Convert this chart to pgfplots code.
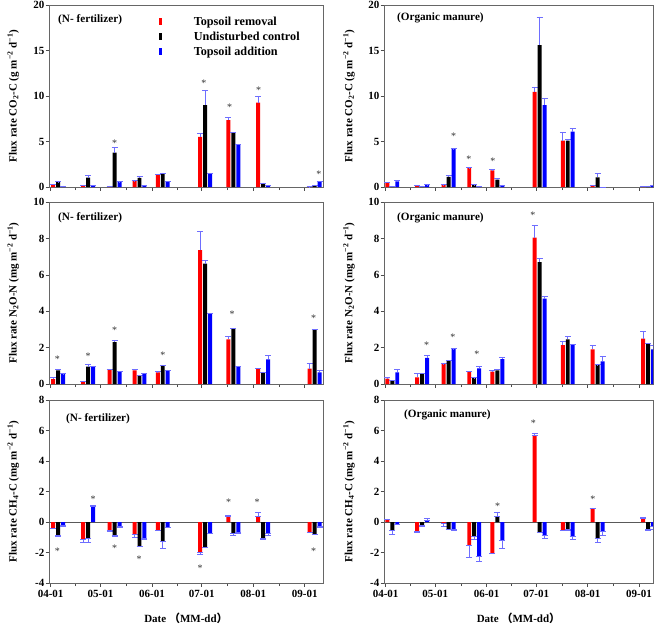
\documentclass[border=0pt]{standalone}
\usepackage{pgfplots}
\pgfplotsset{compat=1.18}
\usepackage{pgfplotstable}
\usepackage{fontspec}
\setmainfont{Liberation Serif}
\newfontfamily\cjk{Noto Sans CJK SC}
\definecolor{errb}{HTML}{6E6EFF}

% d r re k ke b be
\pgfplotstableread{
d r re k ke b be
4.5 0.25 0.05 0.55 0.05 0.10 0.02
22.5 0.20 0.03 1.03 0.30 0.15 0.02
38.5 0.10 0.02 3.78 0.55 0.55 0.05
53.5 0.66 0.05 1.00 0.20 0.20 0.02
67.5 1.32 0.10 1.47 0.08 0.60 0.03
93 5.50 0.45 9.00 1.64 1.45 0.10
110 7.34 0.30 5.95 0.05 4.66 0.05
128 9.28 0.70 0.35 0.10 0.15 0.02
159 0.02 0.01 0.20 0.03 0.55 0.08
}\tA
\pgfplotstableread{
d r re k ke b be
4 0.51 0.05 0.05 0.01 0.62 0.08
22 0.15 0.02 0.10 0.02 0.20 0.05
38 0.20 0.05 1.10 0.15 4.15 0.05
53.5 2.09 0.03 0.20 0.05 0.05 0.01
67.5 1.83 0.07 0.80 0.15 0.20 0.03
93 10.46 0.55 15.60 3.10 9.00 0.70
110 5.10 0.90 5.10 0.10 6.09 0.33
128 0.20 0.02 1.06 0.41 0.00 0.00
158.5 0.05 0.02 0.10 0.02 0.12 0.02
}\tB
\pgfplotstableread{
d r re k ke b be
4.5 0.27 0.08 0.75 0.07 0.55 0.02
22.5 0.15 0.02 0.95 0.16 0.95 0.05
38.5 0.80 0.02 2.30 0.11 0.69 0.02
53.5 0.75 0.05 0.46 0.02 0.57 0.03
67.5 0.64 0.04 1.00 0.05 0.71 0.07
93 7.36 1.02 6.61 0.18 3.89 0.02
110 2.45 0.15 3.03 0.02 0.95 0.02
128 0.84 0.03 0.64 0.02 1.35 0.24
159 0.84 0.31 2.96 0.04 0.64 0.11
}\tC
\pgfplotstableread{
d r re k ke b be
4 0.29 0.06 0.20 0.02 0.64 0.18
22 0.37 0.23 0.58 0.02 1.44 0.11
38 1.10 0.02 1.28 0.02 1.92 0.02
53.5 0.69 0.02 0.33 0.02 0.86 0.09
67.5 0.68 0.07 0.75 0.05 1.37 0.11
93 8.04 0.69 6.70 0.22 4.69 0.11
110 2.14 0.23 2.45 0.18 2.17 0.02
128 1.90 0.20 1.04 0.02 1.24 0.26
158.5 2.50 0.40 2.23 0.02 1.90 0.25
}\tD
% d r rp rm k kp km b bp bm
\pgfplotstableread{
d r rp rm k kp km b bp bm
4.5 -0.39 0 0.03 -0.85 0 0.11 -0.24 0 0.03
22.5 -1.16 0 0.19 -1.07 0 0.23 1.05 0.06 0
38.5 -0.57 0 0.05 -0.90 0 0.05 -0.30 0 0.05
53.5 -0.80 0 0.20 -1.60 0 0.02 -1.09 0 0.02
67.5 -0.55 0 0.02 -1.29 0 0.41 -0.33 0 0.02
93 -2.00 0 0.09 -1.63 0 0.02 -0.74 0 0.02
110 0.35 0.11 0 -0.72 0 0.13 -0.70 0 0.02
128 0.35 0.26 0 -1.09 0 0.02 -0.74 0 0.11
159 -0.65 0 0.02 -0.80 0 0.02 -0.30 0 0.02
}\tE
\pgfplotstableread{
d r rp rm k kp km b bp bm
4 0.15 0.05 0 -0.57 0 0.22 -0.15 0 0.02
22 -0.61 0 0.09 -0.24 0 0.02 0.09 0.15 0
38 -0.10 0 0.16 -0.46 0 0.02 -0.50 0 0.05
53.5 -1.51 0 0.80 -0.96 0 0.19 -2.25 0 0.30
67.5 -2.05 0 0.02 0.39 0.22 0 -1.20 0 0.50
93 5.70 0.13 0 -0.66 0 0.04 -0.85 0 0.22
110 -0.55 0 0.02 -0.50 0 0.05 -0.96 0 0.18
128 0.90 0.02 0 -1.09 0 0.26 -0.59 0 0.26
158.5 0.24 0.06 0 -0.46 0 0.11 -0.28 0 0.18
}\tF

\tikzset{
  ast/.style={font=\fontsize{10}{10}\selectfont, text=black!80, inner sep=0pt, anchor=base, yshift=-5.5pt},
  plab/.style={font=\fontsize{11.2}{13}\selectfont\bfseries, anchor=west, inner sep=0pt},
}
\pgfplotsset{
  base/.style={
    scale only axis, ybar, bar width=2.4, xmin=-1,
    axis line style={black!60, line width=0.6pt},
    tick align=outside,
    xtick={0,30,61,91,122,153},
    minor xtick={15,45.5,76,106.5,137.5},
    xtick pos=bottom, ytick pos=left,
    major tick length=3.5pt, minor tick length=3pt,
    every tick/.style={black!70, line width=0.6pt},
    tick label style={font=\fontsize{11}{13}\selectfont\bfseries, inner sep=1pt},
    xticklabel style={yshift=-2pt},
    /pgf/number format/assume math mode=true,
    ylabel style={font=\fontsize{11}{13}\selectfont\bfseries, at={(axis description cs:-0.13,0.5)}, anchor=center},
    xlabel style={font=\fontsize{11}{13}\selectfont\bfseries, at={(axis description cs:0.5,0)}, anchor=center, yshift=-35pt},
    error bars/y dir=plus, error bars/y explicit,
    error bars/error bar style={draw=errb, line width=0.6pt},
    error bars/error mark options={rotate=90, draw=errb, mark size=3pt, line width=0.6pt},
    legend image code/.code={\path[draw=none, fill=none] (0pt,-3.5pt) rectangle (33pt,3.5pt); \fill[##1] (0pt,-3.5pt) rectangle (3.5pt,3.5pt);},
  },
  co2/.style={ymin=0, ymax=20, ytick={0,5,10,15,20},
    ylabel={Flux rate CO\textsubscript{2}-C (g m\textsuperscript{−2} d\textsuperscript{−1})}},
  n2o/.style={ymin=0, ymax=10, ytick={0,2,4,6,8,10},
    ylabel={Flux rate N\textsubscript{2}O-N (mg m\textsuperscript{−2} d\textsuperscript{−1})}},
  ch4/.style={ymin=-4, ymax=8, ytick={-4,-2,0,2,4,6,8},
    error bars/y dir=both,
    extra y ticks={0}, extra y tick labels={},
    extra y tick style={grid=major, major grid style={black!65, line width=0.6pt}, major tick length=0pt},
    ylabel={Flux rate CH\textsubscript{4}-C (mg m\textsuperscript{−2} d\textsuperscript{−1})}},
  lft/.style={width=274pt, xmax=164},
  rgt/.style={width=269pt, xmax=161.5},
  notl/.style={xticklabels={}},
  dtl/.style={xticklabels={04-01,05-01,06-01,07-01,08-01,09-01},
    xlabel={Date {\cjk （}MM-dd{\cjk ）}}},
}

\begin{document}
\begin{tikzpicture}
\useasboundingbox (0,0) rectangle (660pt,-626pt);

% ---------- row 1 left ----------
\begin{axis}[base, co2, lft, notl, height=182pt, at={(49pt,-187pt)}, anchor=south west,
  legend style={draw=none, fill=none, at={(axis description cs:0.40,0.947)}, anchor=north west,
    font=\fontsize{12.2}{14}\selectfont\bfseries, row sep=1pt, inner sep=0pt},
  legend cell align=left]
\addplot[fill=red, draw=none, bar shift=-3] table[x=d, y=r, y error=re] {\tA};
\addplot[fill=black, draw=none, bar shift=0] table[x=d, y=k, y error=ke] {\tA};
\addplot[fill=blue, draw=none, bar shift=3] table[x=d, y=b, y error=be] {\tA};
\legend{Topsoil removal, Undisturbed control, Topsoil addition}
\node[plab] at (axis description cs:0.033,0.918) {(N- fertilizer)};
\node[ast] at (axis cs:38.5,5.1) {*};
\node[ast] at (axis cs:92.2,11.7) {*};
\node[ast] at (axis cs:107.8,9.0) {*};
\node[ast] at (axis cs:125.3,10.9) {*};
\node[ast] at (axis cs:161.5,1.6) {*};
\end{axis}

% ---------- row 1 right ----------
\begin{axis}[base, co2, rgt, notl, height=182pt, at={(384pt,-187pt)}, anchor=south west]
\addplot[fill=red, draw=none, bar shift=-3] table[x=d, y=r, y error=re] {\tB};
\addplot[fill=black, draw=none, bar shift=0] table[x=d, y=k, y error=ke] {\tB};
\addplot[fill=blue, draw=none, bar shift=3] table[x=d, y=b, y error=be] {\tB};
\node[plab] at (axis description cs:0.048,0.929) {(Organic manure)};
\node[ast] at (axis cs:41.0,5.8) {*};
\node[ast] at (axis cs:50.3,3.3) {*};
\node[ast] at (axis cs:64.8,3.1) {*};
\end{axis}

% ---------- row 2 left ----------
\begin{axis}[base, n2o, lft, notl, height=182pt, at={(49pt,-384pt)}, anchor=south west]
\addplot[fill=red, draw=none, bar shift=-3] table[x=d, y=r, y error=re] {\tC};
\addplot[fill=black, draw=none, bar shift=0] table[x=d, y=k, y error=ke] {\tC};
\addplot[fill=blue, draw=none, bar shift=3] table[x=d, y=b, y error=be] {\tC};
\node[plab] at (axis description cs:0.033,0.912) {(N- fertilizer)};
\node[ast] at (axis cs:4.0,1.46) {*};
\node[ast] at (axis cs:22.6,1.66) {*};
\node[ast] at (axis cs:38.5,3.1) {*};
\node[ast] at (axis cs:67.5,1.7) {*};
\node[ast] at (axis cs:109.2,3.96) {*};
\node[ast] at (axis cs:158.3,3.76) {*};
\end{axis}

% ---------- row 2 right ----------
\begin{axis}[base, n2o, rgt, notl, height=182pt, at={(384pt,-384pt)}, anchor=south west]
\addplot[fill=red, draw=none, bar shift=-3] table[x=d, y=r, y error=re] {\tD};
\addplot[fill=black, draw=none, bar shift=0] table[x=d, y=k, y error=ke] {\tD};
\addplot[fill=blue, draw=none, bar shift=3] table[x=d, y=b, y error=be] {\tD};
\node[plab] at (axis description cs:0.048,0.912) {(Organic manure)};
\node[ast] at (axis cs:24.7,2.28) {*};
\node[ast] at (axis cs:40.6,2.68) {*};
\node[ast] at (axis cs:55.1,1.74) {*};
\node[ast] at (axis cs:88.9,9.37) {*};
\end{axis}

% ---------- row 3 left ----------
\begin{axis}[base, ch4, lft, dtl, height=183pt, at={(49pt,-583pt)}, anchor=south west]
\addplot[fill=red, draw=none, bar shift=-3] table[x=d, y=r, y error plus=rp, y error minus=rm] {\tE};
\addplot[fill=black, draw=none, bar shift=0] table[x=d, y=k, y error plus=kp, y error minus=km] {\tE};
\addplot[fill=blue, draw=none, bar shift=3] table[x=d, y=b, y error plus=bp, y error minus=bm] {\tE};
\node[plab] at (axis description cs:0.062,0.90) {(N- fertilizer)};
\node[ast] at (axis cs:4.0,-1.8) {*};
\node[ast] at (axis cs:25.5,1.66) {*};
\node[ast] at (axis cs:38.5,-1.6) {*};
\node[ast] at (axis cs:53.3,-2.3) {*};
\node[ast] at (axis cs:90.0,-2.9) {*};
\node[ast] at (axis cs:107.2,1.44) {*};
\node[ast] at (axis cs:124.4,1.46) {*};
\node[ast] at (axis cs:158.3,-1.8) {*};
\end{axis}

% ---------- row 3 right ----------
\begin{axis}[base, ch4, rgt, dtl, height=183pt, at={(384pt,-583pt)}, anchor=south west]
\addplot[fill=red, draw=none, bar shift=-3] table[x=d, y=r, y error plus=rp, y error minus=rm] {\tF};
\addplot[fill=black, draw=none, bar shift=0] table[x=d, y=k, y error plus=kp, y error minus=km] {\tF};
\addplot[fill=blue, draw=none, bar shift=3] table[x=d, y=b, y error plus=bp, y error minus=bm] {\tF};
\node[plab] at (axis description cs:0.074,0.918) {(Organic manure)};
\node[ast] at (axis cs:67.6,1.18) {*};
\node[ast] at (axis cs:89.3,6.6) {*};
\node[ast] at (axis cs:125.2,1.66) {*};
\end{axis}
\end{tikzpicture}
\end{document}
